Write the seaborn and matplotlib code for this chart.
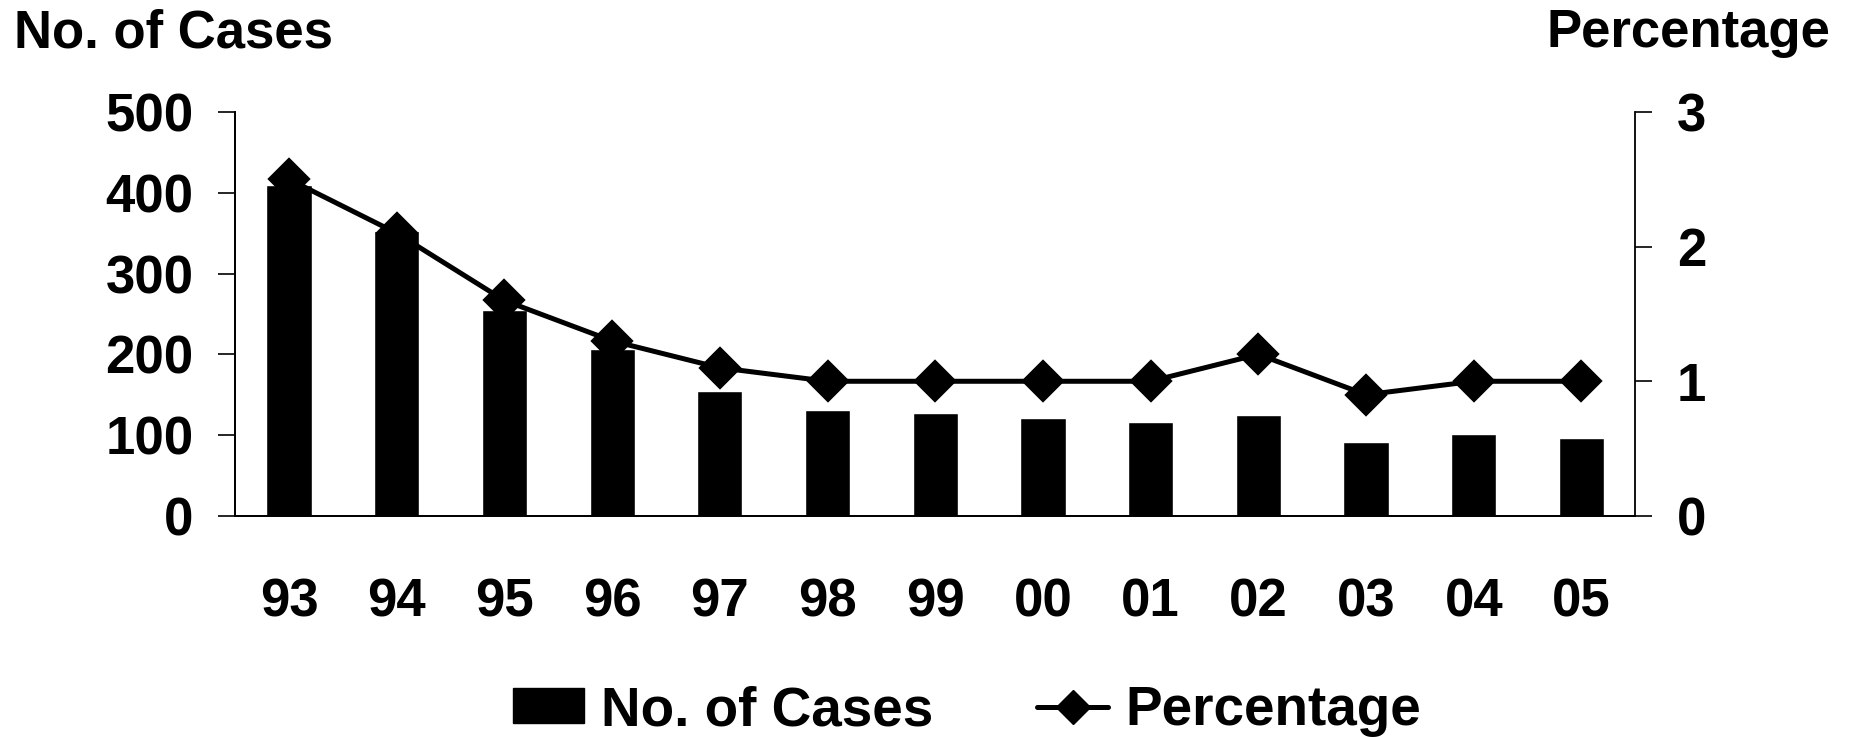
import matplotlib
matplotlib.use("Agg")
import matplotlib.pyplot as plt
import seaborn as sns
import pandas as pd
from matplotlib.patches import Patch
from matplotlib.lines import Line2D

# Annual case counts and percentage, 1993-2005
years = ["93", "94", "95", "96", "97", "98", "99", "00", "01", "02", "03", "04", "05"]
cases = [410, 353, 255, 207, 155, 131, 128, 121, 116, 125, 91, 101, 96]
percentage = [2.5, 2.1, 1.6, 1.3, 1.1, 1.0, 1.0, 1.0, 1.0, 1.2, 0.9, 1.0, 1.0]

case_ticks = [0, 100, 200, 300, 400, 500]
pct_ticks = [0, 1, 2, 3]

sns.set_theme(style="ticks")
plt.rcParams["font.family"] = ["Liberation Sans", "DejaVu Sans"]
plt.rcParams["font.weight"] = "bold"
plt.rcParams["text.color"] = "black"
plt.rcParams["xtick.color"] = "black"
plt.rcParams["ytick.color"] = "black"
plt.rcParams["xtick.labelcolor"] = "black"
plt.rcParams["ytick.labelcolor"] = "black"

FS = 38
LEG_FS = 39.5

df = pd.DataFrame({"year": years, "cases": cases, "pct": percentage})

fig = plt.figure(figsize=(18.52, 7.37), dpi=100)
ax = fig.add_axes([0.127, 0.300, 0.756, 0.548])

sns.barplot(data=df, x="year", y="cases", color="black", saturation=1,
            width=0.42, ax=ax)
ax2 = ax.twinx()
sns.pointplot(data=df, x="year", y="pct", color="black", markers="D",
              linestyles="-", markersize=19, linewidth=3.6, ax=ax2)

ax.set_xlim(-0.5, len(years) - 0.5)
ax.set_ylim(0, 500)
ax2.set_ylim(0, 3)
ax.set_yticks(case_ticks)
ax2.set_yticks(pct_ticks)
for a in (ax, ax2):
    a.set_xlabel("")
    a.set_ylabel("")
    a.spines["top"].set_visible(False)
    for s in ("left", "right", "bottom"):
        a.spines[s].set_color("black")
        a.spines[s].set_linewidth(1.3)
ax.spines["right"].set_visible(False)
ax2.spines["right"].set_visible(True)

ax.tick_params(axis="y", left=True, direction="out", length=12, width=1.2,
               pad=18, labelsize=FS, colors="black")
ax.tick_params(axis="x", bottom=False, length=0, pad=44, labelsize=FS,
               colors="black")
ax2.tick_params(axis="y", right=True, direction="out", length=12, width=1.2,
                pad=18, labelsize=FS, colors="black")

fig.text(14 / 1852, 1 - 8 / 737, "No. of Cases", ha="left", va="top",
         fontsize=FS, fontweight="bold", color="black")
fig.text(1830 / 1852, 1 - 8 / 737, "Percentage", ha="right", va="top",
         fontsize=FS, fontweight="bold", color="black")

handles = [
    Patch(facecolor="black", edgecolor="black"),
    Line2D([], [], color="black", marker="D", markersize=17, linewidth=3.6),
]
leg = fig.legend(handles, ["No. of Cases", "Percentage"], loc="lower center",
                 bbox_to_anchor=(0.522, -0.045), ncol=2, frameon=False,
                 fontsize=LEG_FS, handlelength=1.3, handleheight=0.6,
                 handletextpad=0.3, columnspacing=1.9, borderpad=0.1)
for t in leg.get_texts():
    t.set_color("black")

fig.savefig("out.png", dpi=100)
